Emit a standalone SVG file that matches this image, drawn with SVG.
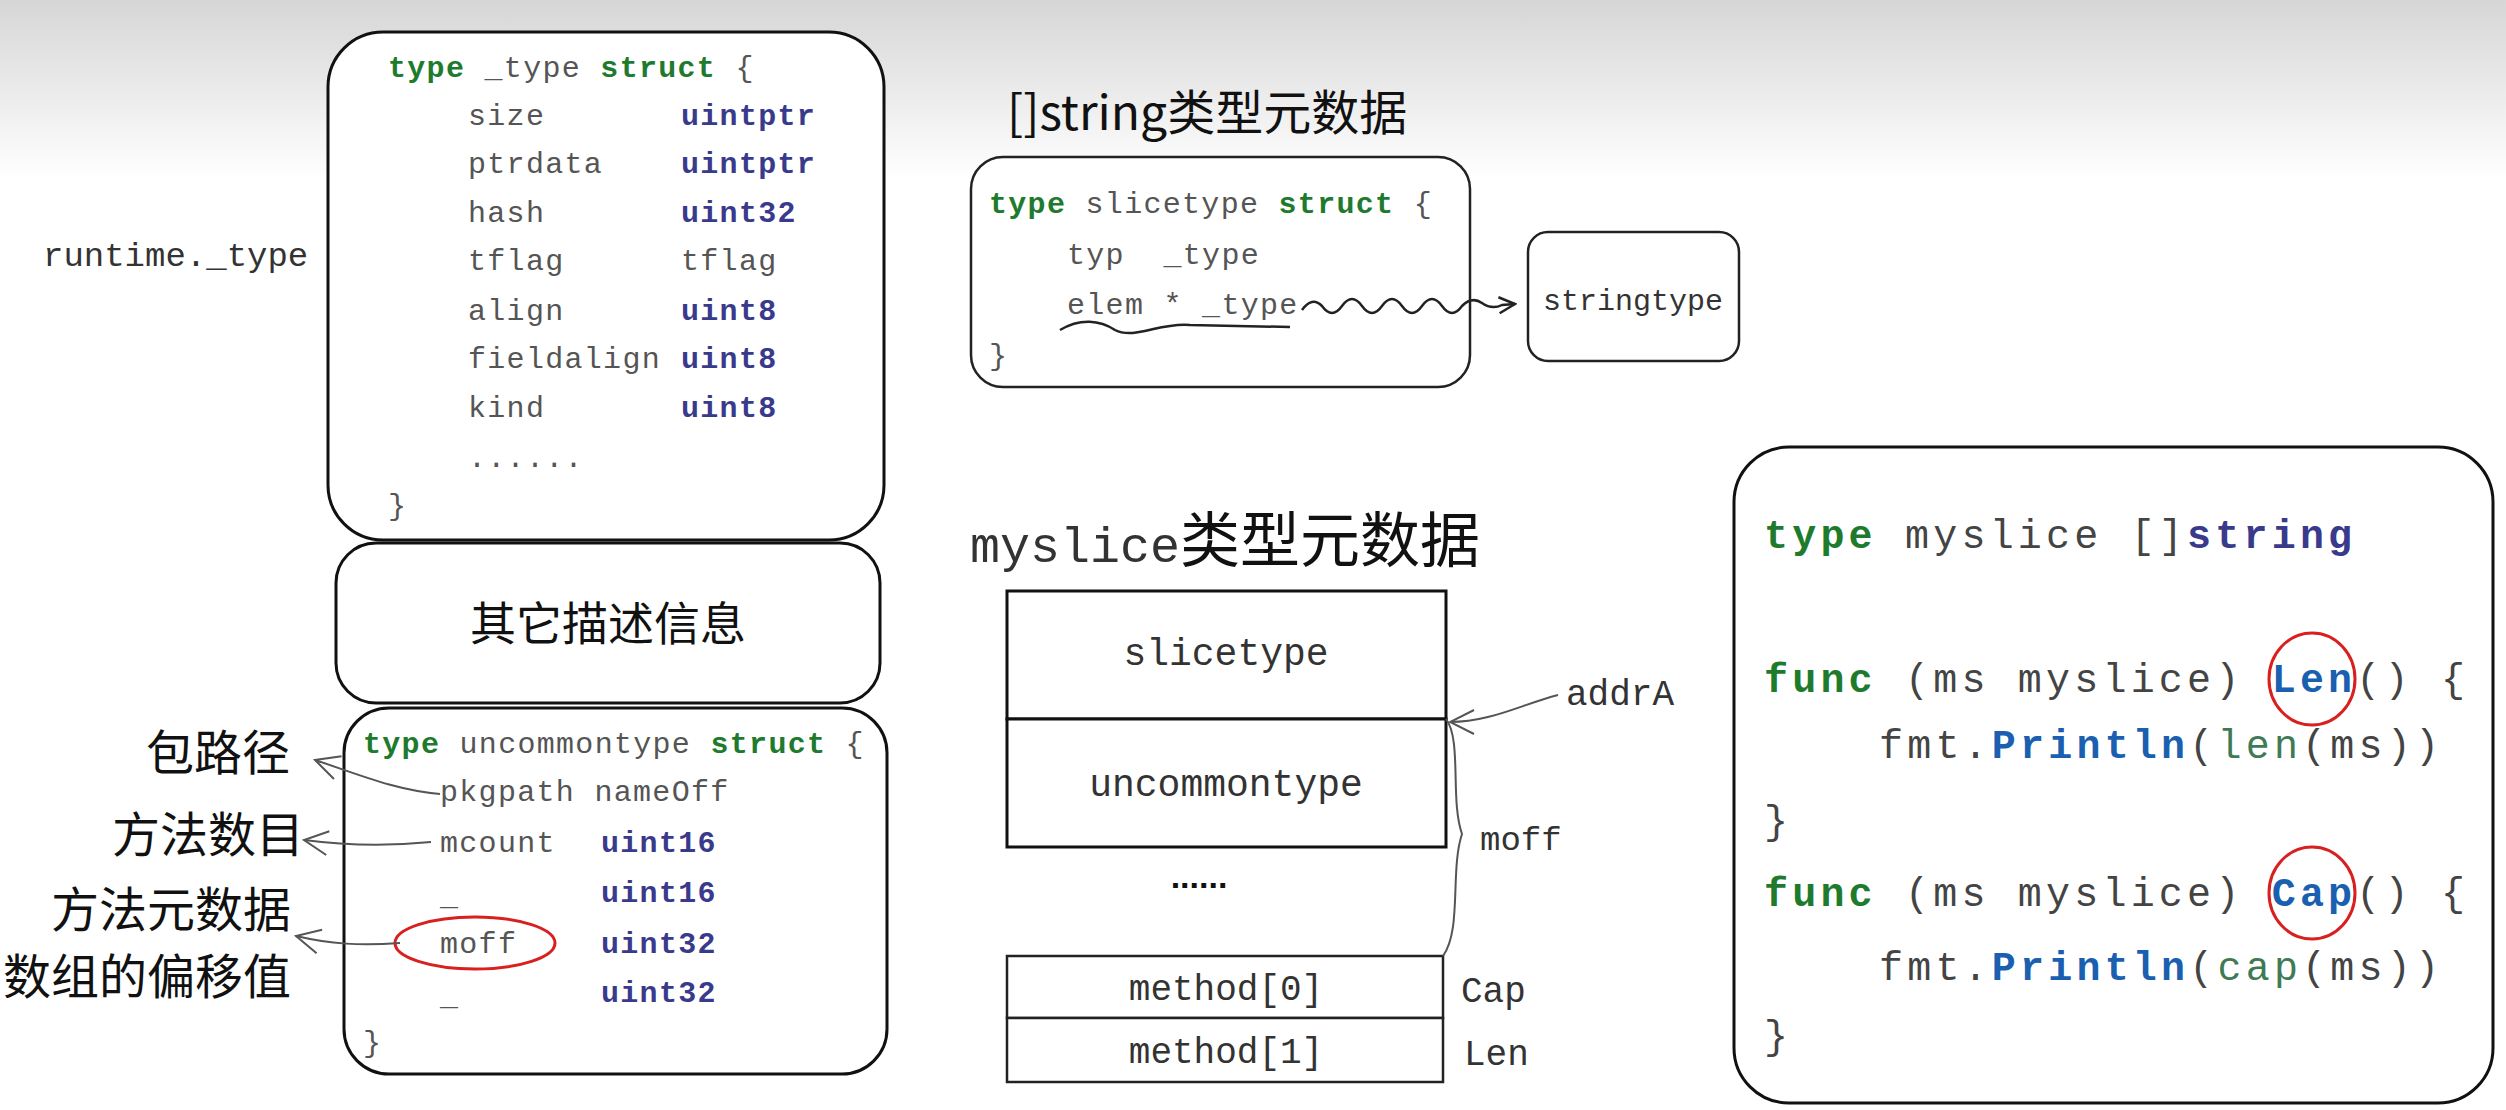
<svg xmlns="http://www.w3.org/2000/svg" width="2506" height="1110" viewBox="0 0 2506 1110">
<defs>
<linearGradient id="bg" x1="0" y1="0" x2="0" y2="1"><stop offset="0" stop-color="#d6d6d6"/><stop offset="1" stop-color="#ffffff"/></linearGradient>
<marker id="ah" viewBox="0 0 20 20" refX="18" refY="10" markerWidth="20" markerHeight="20" markerUnits="userSpaceOnUse" orient="auto"><path d="M2,2 L18,10 L2,18" fill="none" stroke="#222" stroke-width="2.5"/></marker>
<marker id="ahg" viewBox="0 0 30 30" refX="28" refY="15" markerWidth="30" markerHeight="30" markerUnits="userSpaceOnUse" orient="auto"><path d="M4,3 L28,15 L4,27" fill="none" stroke="#555" stroke-width="2"/></marker>
</defs>
<style>
.box{fill:#fff;stroke:#111;stroke-width:3}
.rbox{fill:#fff;stroke:#222;stroke-width:2.5}
.code{font-family:"Liberation Mono",monospace;font-size:30px;letter-spacing:1.3px;fill:#555}
.big{font-family:"Liberation Mono",monospace;font-size:40px;letter-spacing:4.2px;fill:#444}
.kw{fill:#1e7b2e;font-weight:bold}
.ty{fill:#3a3a8c;font-weight:bold}
.fn{fill:#1a5fb0;font-weight:bold}
.bi{fill:#3f7a55}
.hand{font-family:"Noto Sans CJK SC","Noto Sans",sans-serif;fill:#111}
.lab{font-family:"Liberation Mono",monospace;fill:#333}
.red{fill:none;stroke:#d92020;stroke-width:3}
.line{fill:none;stroke:#222;stroke-width:2.5}
.gline{fill:none;stroke:#555;stroke-width:2}
</style>
<rect width="2506" height="1110" fill="#fff"/>
<rect width="2506" height="180" fill="url(#bg)"/>

<g id="runtime_type_label"><text class="lab" x="43" y="266" font-size="34">runtime._type</text></g>

<g id="type_box">
<rect class="box" x="328" y="32" width="556" height="508" rx="55"/>
<text class="code" x="388" y="77"><tspan class="kw">type</tspan> _type <tspan class="kw">struct</tspan> {</text>
<text class="code" x="468" y="125">size</text><text class="code ty" x="681" y="125">uintptr</text>
<text class="code" x="468" y="173">ptrdata</text><text class="code ty" x="681" y="173">uintptr</text>
<text class="code" x="468" y="222">hash</text><text class="code ty" x="681" y="222">uint32</text>
<text class="code" x="468" y="270">tflag</text><text class="code" x="681" y="270">tflag</text>
<text class="code" x="468" y="320">align</text><text class="code ty" x="681" y="320">uint8</text>
<text class="code" x="468" y="368">fieldalign</text><text class="code ty" x="681" y="368">uint8</text>
<text class="code" x="468" y="417">kind</text><text class="code ty" x="681" y="417">uint8</text>
<text class="code" x="468" y="467">......</text>
<text class="code" x="388" y="515">}</text>
</g>

<g id="other_box">
<rect class="box" x="336" y="543" width="544" height="160" rx="40"/>
<text class="hand" x="608" y="640" font-size="46" text-anchor="middle">其它描述信息</text>
</g>

<g id="uncommon_box">
<rect class="box" x="344" y="708" width="543" height="366" rx="45"/>
<text class="code" x="363" y="753"><tspan class="kw">type</tspan> uncommontype <tspan class="kw">struct</tspan> {</text>
<text class="code" x="440" y="801">pkgpath nameOff</text>
<text class="code" x="440" y="852">mcount</text><text class="code ty" x="601" y="852">uint16</text>
<text class="code" x="440" y="905">_</text><text class="code ty" x="601" y="902">uint16</text>
<text class="code" x="440" y="953">moff</text><text class="code ty" x="601" y="953">uint32</text>
<text class="code" x="440" y="1005">_</text><text class="code ty" x="601" y="1002">uint32</text>
<text class="code" x="363" y="1052">}</text>
<ellipse class="red" cx="475" cy="943" rx="80" ry="26"/>
</g>

<g id="left_labels">
<text class="hand" x="290" y="770" font-size="48" text-anchor="end">包路径</text>
<text class="hand" x="304" y="852" font-size="48" text-anchor="end">方法数目</text>
<text class="hand" x="291" y="927" font-size="48" text-anchor="end">方法元数据</text>
<text class="hand" x="291" y="994" font-size="48" text-anchor="end">数组的偏移值</text>
</g>

<g id="slice_title"><text class="hand" x="1007" y="130" font-size="48">[]string类型元数据</text></g>
<g id="slicetype_box">
<rect class="rbox" x="971" y="157" width="499" height="230" rx="32"/>
<text class="code" x="989" y="213"><tspan class="kw">type</tspan> slicetype <tspan class="kw">struct</tspan> {</text>
<text class="code" x="1067" y="264" xml:space="preserve">typ  _type</text>
<text class="code" x="1067" y="314">elem * _type</text>
<text class="code" x="989" y="365">}</text>
<path class="line" d="M1060,330 C1080,318 1100,320 1115,330 C1135,340 1160,322 1190,325 L1290,327"/>
</g>
<g id="stringtype_box">
<rect class="rbox" x="1528" y="232" width="211" height="129" rx="20"/>
<text class="lab" x="1633" y="310" font-size="30" text-anchor="middle">stringtype</text>
</g>

<g id="myslice_title"><text x="970" y="562" font-size="60"><tspan class="lab" font-size="50">myslice</tspan><tspan class="hand">类型元数据</tspan></text></g>
<g id="myslice_layout">
<rect class="box" x="1007" y="591" width="439" height="128" fill="#fff"/>
<rect class="box" x="1007" y="719" width="439" height="128"/>
<text class="lab" x="1226" y="665" font-size="38" text-anchor="middle">slicetype</text>
<text class="lab" x="1226" y="796" font-size="38" text-anchor="middle">uncommontype</text>
<text x="1199" y="888" font-size="34" font-family="Liberation Sans,sans-serif" font-weight="bold" text-anchor="middle" fill="#111">......</text>
<rect class="rbox" x="1007" y="956" width="436" height="62"/>
<rect class="rbox" x="1007" y="1018" width="436" height="64"/>
<text class="lab" x="1226" y="1000" font-size="36" text-anchor="middle">method[0]</text>
<text class="lab" x="1226" y="1063" font-size="36" text-anchor="middle">method[1]</text>
<text class="lab" x="1461" y="1002" font-size="36">Cap</text>
<text class="lab" x="1464" y="1065" font-size="36">Len</text>
<path class="gline" d="M1446,719 C1462,740 1450,800 1462,834 C1450,870 1462,930 1443,956"/>
<text class="lab" x="1480" y="850" font-size="34">moff</text>
<text class="lab" x="1566" y="705" font-size="36">addrA</text>
</g>

<g id="code_box">
<rect class="box" x="1734" y="447" width="759" height="656" rx="55"/>
<text class="big" x="1764" y="548"><tspan class="kw">type</tspan> myslice []<tspan class="ty">string</tspan></text>
<text class="big" x="1764" y="692" xml:space="preserve"><tspan class="kw">func</tspan> (ms myslice) <tspan class="fn">Len</tspan>() {</text>
<text class="big" x="1879" y="758"><tspan>fmt.</tspan><tspan class="fn">Println</tspan>(<tspan class="bi">len</tspan>(ms))</text>
<text class="big" x="1764" y="834">}</text>
<text class="big" x="1764" y="906" xml:space="preserve"><tspan class="kw">func</tspan> (ms myslice) <tspan class="fn">Cap</tspan>() {</text>
<text class="big" x="1879" y="980"><tspan>fmt.</tspan><tspan class="fn">Println</tspan>(<tspan class="bi">cap</tspan>(ms))</text>
<text class="big" x="1764" y="1049">}</text>
<ellipse class="red" cx="2312" cy="679" rx="43" ry="46"/>
<ellipse class="red" cx="2312" cy="893" rx="43" ry="46"/>
</g>

<g id="connectors">
<path class="gline" d="M440,794 C395,790 360,775 315,760" marker-end="url(#ahg)"/>
<path class="gline" d="M431,842 C390,846 350,846 304,840" marker-end="url(#ahg)"/>
<path class="gline" d="M400,943 C360,946 330,944 296,936" marker-end="url(#ahg)"/>
<path class="line" d="M1302,310 q10,-14 20,-4 q10,14 20,0 q10,-14 20,0 q10,14 20,0 q10,-14 20,0 q10,14 20,0 q10,-14 20,0 q10,14 20,0 q10,-10 20,-3 q10,7 20,2 L1515,304" marker-end="url(#ah)"/>
<path class="gline" d="M1558,695 C1520,705 1490,722 1450,722" marker-end="url(#ahg)"/>
</g>
</svg>
